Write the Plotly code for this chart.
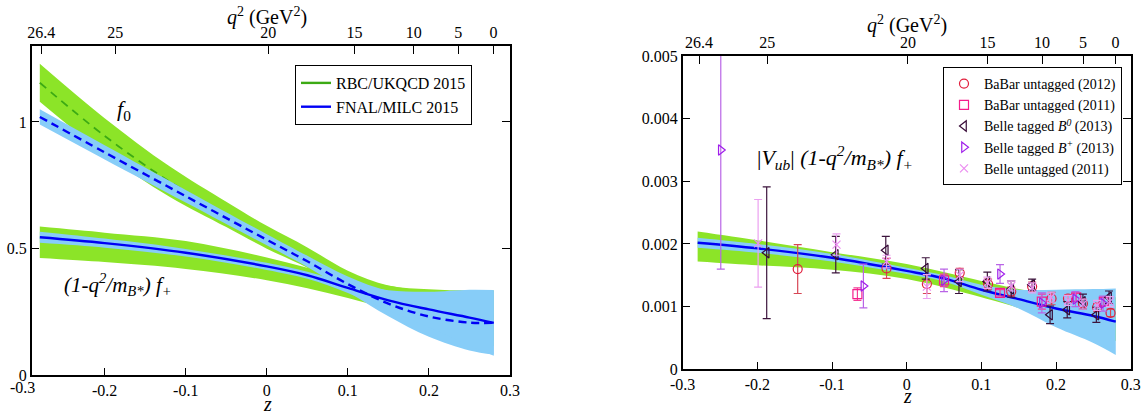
import numpy as np
import plotly.graph_objects as go

# ---------------- data ----------------
# left panel: form factors vs z
z_f0_rbc = [-0.28, -0.2, -0.12, -0.05, 0.0, 0.05, 0.1, 0.15, 0.2, 0.25, 0.28]
f0_rbc = [1.155, 0.945, 0.765, 0.635, 0.545, 0.465, 0.375, 0.31, 0.27, 0.245, 0.235]
f0_rbc_err = [0.075, 0.07, 0.06, 0.05, 0.045, 0.04, 0.038, 0.045, 0.07, 0.09, 0.1]

z_fp_rbc = [-0.28, -0.2, -0.1, 0.0, 0.1, 0.2, 0.28]
fp_rbc = [0.525, 0.505, 0.475, 0.42, 0.345, 0.27, 0.215]
fp_rbc_err = [0.062, 0.058, 0.055, 0.045, 0.04, 0.06, 0.1]

z_fnal = [-0.28, -0.2, -0.1, 0.0, 0.05, 0.1, 0.15, 0.2, 0.25, 0.28]
f0_fnal = [1.02, 0.88, 0.707, 0.535, 0.45, 0.36, 0.283, 0.232, 0.208, 0.207]
f0_fnal_err = [0.03, 0.028, 0.025, 0.022, 0.022, 0.03, 0.05, 0.08, 0.11, 0.125]
fp_fnal = [0.545, 0.522, 0.484, 0.43, 0.395, 0.345, 0.296, 0.26, 0.228, 0.207]
fp_fnal_err = [0.022, 0.018, 0.015, 0.014, 0.014, 0.02, 0.04, 0.07, 0.11, 0.13]

# right panel: |Vub| (1-q^2/mB*^2) f+
z_vub = [-0.28, -0.2, -0.1, 0.0, 0.05, 0.1, 0.15, 0.2, 0.25, 0.28]
vub_fnal = [0.00202, 0.00193, 0.00178, 0.00157, 0.00145, 0.00127, 0.00112, 0.00097, 0.00085, 0.00076]
vub_fnal_err = [0.00008, 0.00007, 0.00006, 0.00005, 0.00005, 0.00008, 0.00015, 0.0003, 0.00043, 0.00053]
z_vub_rbc = [-0.28, -0.2, -0.1, 0.0, 0.1, 0.15, 0.2, 0.25, 0.28]
vub_rbc = [0.00196, 0.00186, 0.00173, 0.00156, 0.00128, 0.00113, 0.00098, 0.00086, 0.0008]
vub_rbc_err = [0.00024, 0.0002, 0.00014, 0.00012, 0.00013, 0.00015, 0.0002, 0.0003, 0.00035]

# experimental points
babar12_z = [-0.146, -0.027, 0.027, 0.071, 0.109, 0.140, 0.168, 0.194, 0.216, 0.236, 0.255, 0.273]
babar12_v = [0.0016, 0.00161, 0.00136, 0.00154, 0.00136, 0.00124, 0.00132, 0.00113, 0.00113, 0.00105, 0.00099, 0.0009]
babar12_e = [0.00039, 0.00016, 0.00015, 0.00007, 0.00008, 0.00007, 0.00007, 0.0001, 0.00006, 0.00007, 0.00006, 0.00006]

babar11_z = [-0.066, 0.05, 0.125, 0.181, 0.227, 0.264]
babar11_v = [0.0012, 0.00142, 0.00122, 0.00108, 0.00115, 0.00108]
babar11_e = [0.0001, 0.0001, 0.00005, 0.00012, 0.00006, 0.00007]

belleB0_z = [-0.1875, -0.095, -0.028, 0.0255, 0.070, 0.108, 0.140, 0.168, 0.192, 0.215, 0.236, 0.254, 0.271]
belleB0_v = [0.00186, 0.00183, 0.0019, 0.00161, 0.0014, 0.0014, 0.00128, 0.00135, 0.00087, 0.00095, 0.00108, 0.00087, 0.00115]
belleB0_e = [0.00105, 0.00029, 0.00022, 0.00017, 0.00019, 0.00015, 0.00013, 0.00009, 0.00014, 0.00013, 0.00012, 0.00012, 0.0001]

belleBp_z = [-0.249, -0.058, 0.05, 0.125, 0.181, 0.226, 0.263]
belleBp_v = [0.0035, 0.00133, 0.00142, 0.00152, 0.00106, 0.00112, 0.00105]
belleBp_e = [0.0019, 0.00035, 0.00018, 0.00015, 0.00016, 0.00012, 0.00012]

belleU_z = [-0.199, -0.094, -0.027, 0.027, 0.071, 0.108, 0.140, 0.168, 0.193, 0.216, 0.236, 0.255, 0.272]
belleU_v = [0.00201, 0.00199, 0.00172, 0.00132, 0.0015, 0.00138, 0.00133, 0.0013, 0.00115, 0.0011, 0.00104, 0.00102, 0.00108]
belleU_e = [0.0007, 0.00017, 0.0001, 0.00019, 0.0001, 0.00009, 0.00008, 0.00008, 0.00008, 0.00008, 0.00008, 0.00008, 0.00008]

# axis ticks
q2_ticks = [26.4, 25, 20, 15, 10, 5, 0]
left_z_ticks = [-0.2, -0.1, 0, 0.1, 0.2, 0.3]
right_z_ticks = [-0.3, -0.2, -0.1, 0, 0.1, 0.2, 0.3]
left_y_ticks = [0, 0.5, 1]
right_y_ticks = [0, 0.001, 0.002, 0.003, 0.004, 0.005]

# ---------------- helpers ----------------
mB, mpi = 5.27958, 0.13957
tp = (mB + mpi) ** 2
tm = (mB - mpi) ** 2
t0 = tp * (1 - np.sqrt(1 - tm / tp))


def z_of_q2(q2):
    a = np.sqrt(tp - np.asarray(q2, float))
    b = np.sqrt(tp - t0)
    return (a - b) / (a + b)


FONT = "Liberation Serif"
GREEN = "rgb(140,228,40)"
GREEN_LINE = "rgb(60,170,20)"
LBLUE = "rgb(135,205,248)"
BLUE = "rgb(0,0,245)"

fig = go.Figure()


def band(z, c, e, color, xa, ya):
    c = np.asarray(c)
    e = np.asarray(e)
    fig.add_trace(go.Scatter(x=z, y=c - e, mode="lines", line=dict(width=0, color=color, shape="spline"),
                             xaxis=xa, yaxis=ya, showlegend=False, hoverinfo="skip"))
    fig.add_trace(go.Scatter(x=z, y=c + e, mode="lines", line=dict(width=0, color=color, shape="spline"),
                             fill="tonexty", fillcolor=color, xaxis=xa, yaxis=ya,
                             showlegend=False, hoverinfo="skip"))


# left panel: RBC bands and central line first, FNAL on top
band(z_f0_rbc, f0_rbc, f0_rbc_err, GREEN, "x", "y")
band(z_fp_rbc, fp_rbc, fp_rbc_err, GREEN, "x", "y")
fig.add_trace(go.Scatter(x=z_f0_rbc, y=f0_rbc, mode="lines",
                         line=dict(color=GREEN_LINE, width=1.8, dash="8px,6px", shape="spline"),
                         xaxis="x", yaxis="y", showlegend=False, hoverinfo="skip"))
band(z_fnal, f0_fnal, f0_fnal_err, LBLUE, "x", "y")
band(z_fnal, fp_fnal, fp_fnal_err, LBLUE, "x", "y")
fig.add_trace(go.Scatter(x=z_fnal, y=f0_fnal, mode="lines",
                         line=dict(color=BLUE, width=2.4, dash="8px,5px", shape="spline"),
                         xaxis="x", yaxis="y", showlegend=False, hoverinfo="skip"))
fig.add_trace(go.Scatter(x=z_fnal, y=fp_fnal, mode="lines",
                         line=dict(color=BLUE, width=2.4, shape="spline"),
                         xaxis="x", yaxis="y", showlegend=False, hoverinfo="skip"))
# legend entries (left)
fig.add_trace(go.Scatter(x=[None], y=[None], mode="lines", name="RBC/UKQCD 2015",
                         line=dict(color=GREEN_LINE, width=2.4), xaxis="x", yaxis="y", legend="legend"))
fig.add_trace(go.Scatter(x=[None], y=[None], mode="lines", name="FNAL/MILC 2015",
                         line=dict(color=BLUE, width=2.4), xaxis="x", yaxis="y", legend="legend"))

# right panel bands
band(z_vub_rbc, vub_rbc, vub_rbc_err, GREEN, "x2", "y2")
band(z_vub, vub_fnal, vub_fnal_err, LBLUE, "x2", "y2")
fig.add_trace(go.Scatter(x=z_vub, y=vub_fnal, mode="lines", line=dict(color=BLUE, width=2.4, shape="spline"),
                         xaxis="x2", yaxis="y2", showlegend=False, hoverinfo="skip"))


def pts(z, v, e, name, symbol, color, ecolor, size=9):
    fig.add_trace(go.Scatter(
        x=z, y=v, mode="markers", name=name, xaxis="x2", yaxis="y2", legend="legend2",
        marker=dict(symbol=symbol, size=size, color=color, line=dict(color=color, width=1.2)),
        error_y=dict(type="data", array=e, visible=True, color=ecolor, thickness=1.2, width=4)))


pts(babar12_z, babar12_v, babar12_e, "BaBar untagged (2012)", "circle-open", "rgb(225,30,60)", "rgb(215,70,85)")
pts(babar11_z, babar11_v, babar11_e, "BaBar untagged (2011)", "square-open", "rgb(245,30,140)", "rgb(245,60,150)")
pts(belleB0_z, belleB0_v, belleB0_e, "Belle tagged <i>B<sup>0</sup></i> (2013)", "triangle-left-open",
    "rgb(55,10,55)", "rgb(60,20,60)")
pts(belleBp_z, belleBp_v, belleBp_e, "Belle tagged <i>B<sup>+</sup></i> (2013)", "triangle-right-open",
    "rgb(160,30,235)", "rgb(185,100,230)")
pts(belleU_z, belleU_v, belleU_e, "Belle untagged (2011)", "x-thin-open", "rgb(235,140,240)",
    "rgb(235,160,240)", size=8)

# dummy traces for top axes
fig.add_trace(go.Scatter(x=[-0.29, 0.3], y=[-1, -1], mode="markers", marker=dict(opacity=0),
                         xaxis="x3", yaxis="y", showlegend=False, hoverinfo="skip"))
fig.add_trace(go.Scatter(x=[-0.3, 0.3], y=[-1, -1], mode="markers", marker=dict(opacity=0),
                         xaxis="x4", yaxis="y2", showlegend=False, hoverinfo="skip"))

W, H = 1148, 414


def px(x):
    return x / W


def py(y):
    return 1 - y / H


tickfont = dict(family=FONT, size=16, color="black")
common = dict(showline=True, linecolor="black", linewidth=1.5, ticks="inside", ticklen=8,
              tickwidth=1.2, tickcolor="black", showgrid=False, zeroline=False, tickfont=tickfont,
              automargin=False)

left_dom_x = [px(31.7), px(510)]
left_dom_y = [py(375.3), py(46)]
right_dom_x = [px(682.7), px(1130.7)]
right_dom_y = [py(369.3), py(56)]

q2_z = [float(v) for v in z_of_q2(q2_ticks)]
q2_txt = [str(v) for v in q2_ticks]

fig.update_layout(
    width=W, height=H, autosize=False,
    margin=dict(l=0, r=0, t=0, b=0, pad=0),
    paper_bgcolor="white", plot_bgcolor="white",
    font=dict(family=FONT, color="black"),
    xaxis=dict(domain=left_dom_x, range=[-0.29, 0.30], anchor="y", mirror=True,
               tickvals=left_z_ticks, ticktext=[str(v) for v in left_z_ticks], **common),
    yaxis=dict(domain=left_dom_y, range=[0, 1.3], anchor="x", mirror="ticks",
               tickvals=left_y_ticks, ticktext=["0", "0.5", "1"], **common),
    xaxis3=dict(overlaying="x", side="top", anchor="y", range=[-0.29, 0.30],
                tickvals=q2_z, ticktext=q2_txt, **common),
    xaxis2=dict(domain=right_dom_x, range=[-0.3, 0.3], anchor="y2", mirror=True,
                tickvals=right_z_ticks, ticktext=[str(v) for v in right_z_ticks], **common),
    yaxis2=dict(domain=right_dom_y, range=[0, 0.005], anchor="x2", mirror="ticks",
                tickvals=right_y_ticks, ticktext=["0", "0.001", "0.002", "0.003", "0.004", "0.005"], **common),
    xaxis4=dict(overlaying="x2", side="top", anchor="y2", range=[-0.3, 0.3],
                tickvals=q2_z, ticktext=q2_txt, **common),
    legend=dict(x=px(295), y=py(65), xanchor="left", yanchor="top", bgcolor="white",
                bordercolor="black", borderwidth=1, font=dict(family=FONT, size=16),
                itemwidth=30, tracegroupgap=0, traceorder="normal"),
    legend2=dict(x=px(943), y=py(67), xanchor="left", yanchor="top", bgcolor="white",
                 bordercolor="black", borderwidth=1, font=dict(family=FONT, size=14),
                 itemwidth=30, tracegroupgap=0, traceorder="normal"),
    showlegend=True,
)

ann = []


def add_ann(text, x, y, size):
    ann.append(dict(text=text, x=px(x), y=py(y), xref="paper", yref="paper", showarrow=False,
                    xanchor="center", yanchor="middle",
                    font=dict(family=FONT, size=size, color="black")))


add_ann("<i>q</i><sup>2</sup> (GeV<sup>2</sup>)", 267, 17, 20)
add_ann("<i>q</i><sup>2</sup> (GeV<sup>2</sup>)", 907, 24, 20)
add_ann("<i>z</i>", 267, 404, 20)
add_ann("<i>z</i>", 907, 396, 20)
add_ann("-0.3", 22, 387, 16)
add_ann("<i>f</i><sub>0</sub>", 124, 110, 22)
add_ann("<i>(1-q<sup>2</sup>/m<sub>B*</sub>) f<sub>+</sub></i>", 118, 284, 21)
add_ann("|<i>V<sub>ub</sub></i>| <i>(1-q<sup>2</sup>/m<sub>B*</sub>) f<sub>+</sub></i>", 835, 158, 22)
fig.update_layout(annotations=ann)

fig.write_html(
    "out.html",
    post_script="document.body.style.margin='0';document.body.style.padding='0';"
                "document.body.style.overflow='hidden';",
)
